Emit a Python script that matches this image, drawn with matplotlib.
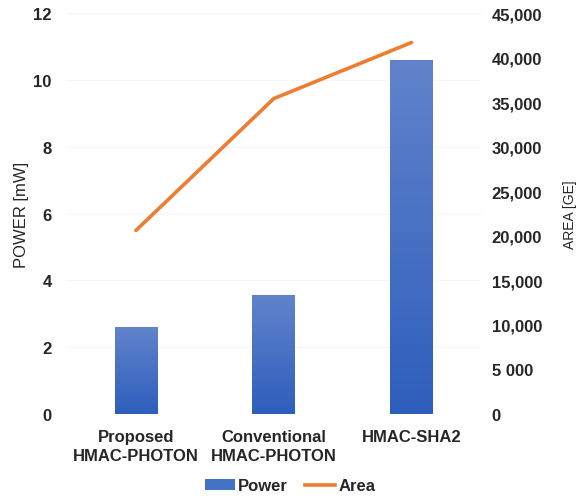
import matplotlib
matplotlib.use("Agg")
import matplotlib.pyplot as plt
import numpy as np
from matplotlib.ticker import FuncFormatter
from matplotlib.patches import Patch
from matplotlib.lines import Line2D
from matplotlib.colors import LinearSegmentedColormap

categories = ["Proposed\nHMAC-PHOTON", "Conventional\nHMAC-PHOTON", "HMAC-SHA2"]
power_mw = [2.6, 3.55, 10.6]
area_ge = [20600, 35400, 41700]
left_ticks = [0, 2, 4, 6, 8, 10, 12]
right_ticks = [0, 5000, 10000, 15000, 20000, 25000, 30000, 35000, 40000, 45000]
right_labels = ["0", "5 000", "10,000", "15,000", "20,000", "25,000", "30,000", "35,000", "40,000", "45,000"]

plt.rcParams['font.family'] = ['Liberation Sans', 'DejaVu Sans']
tick_color = "#262626"

fig = plt.figure(figsize=(5.8, 5.02), dpi=100)
ax = fig.add_axes([0.1155, 0.1733, 0.713, 0.7987])
x = np.arange(len(categories))
bars = ax.bar(x, power_mw, width=0.31, color="#4472c4", zorder=2)

cmap = LinearSegmentedColormap.from_list("g", ["#2e5ebc", "#6183cb"])
grad = np.linspace(0, 1, 256).reshape(-1, 1)
for b in bars:
    x0, y0 = b.get_x(), b.get_y()
    w, h = b.get_width(), b.get_height()
    im = ax.imshow(grad, cmap=cmap, origin="lower", aspect="auto",
                   extent=[x0, x0 + w, y0, y0 + h], zorder=2.5)
    im.set_clip_path(b)
    b.set_alpha(0)

ax.set_xlim(-0.5, 2.5)
ax.set_ylim(0, 12)
ax.set_yticks(left_ticks)
ax.set_xticks(x)
ax.set_xticklabels(categories, fontsize=12, fontweight="bold", color=tick_color,
                   linespacing=1.35)
ax.tick_params(axis="y", labelsize=12, colors=tick_color, length=0, pad=11)
ax.tick_params(axis="x", length=0, pad=11)
for lbl in ax.get_yticklabels():
    lbl.set_fontweight("bold")
ax.grid(axis="y", color="#f6f6f6", linewidth=0.8, zorder=0)
for s in ax.spines.values():
    s.set_visible(False)
ax.set_ylabel("POWER [mW]", fontsize=12, color=tick_color, labelpad=3)

ax2 = ax.twinx()
ax2.plot(x, area_ge, color="#ed7d31", linewidth=2.6, zorder=3,
         solid_capstyle="round")
ax2.set_ylim(0, 45000)
ax2.set_yticks(right_ticks)
ax2.yaxis.set_major_formatter(FuncFormatter(lambda v, p: right_labels[right_ticks.index(int(v))] if int(v) in right_ticks else ""))
ax2.tick_params(axis="y", labelsize=12, colors=tick_color, length=0, pad=8)
for lbl in ax2.get_yticklabels():
    lbl.set_fontweight("bold")
for s in ax2.spines.values():
    s.set_visible(False)
ax2.set_ylabel("AREA [GE]", fontsize=10, color=tick_color, labelpad=15)

handles = [Patch(facecolor="#4472c4", label="Power"),
           Line2D([0], [0], color="#ed7d31", linewidth=2.6, label="Area")]
leg = fig.legend(handles=handles, loc="center", bbox_to_anchor=(0.5, 0.03), ncol=2,
                 frameon=False, prop={"size": 12, "weight": "bold"},
                 handlelength=1.8, handleheight=0.6, columnspacing=1.0, handletextpad=0.2)
for t in leg.get_texts():
    t.set_color(tick_color)

fig.savefig("out.png", dpi=100)
